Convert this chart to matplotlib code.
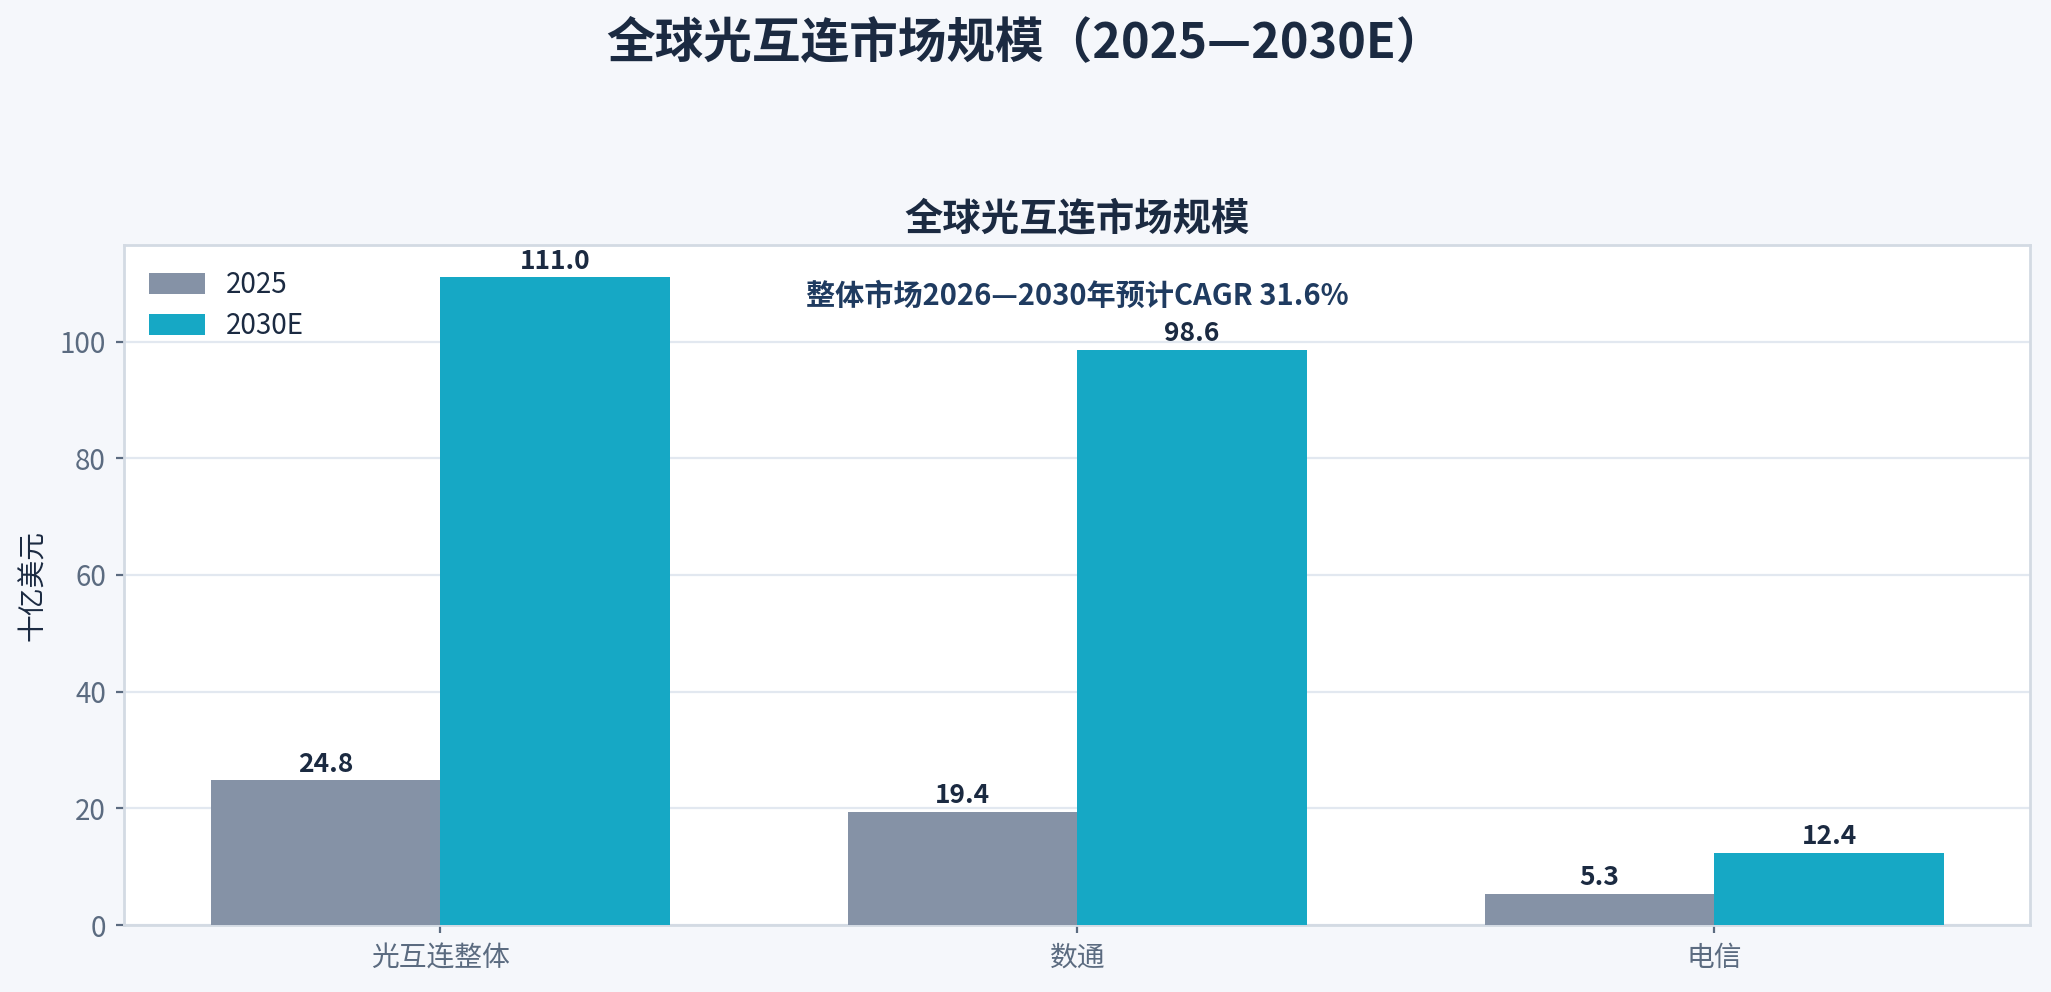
import numpy as np
import matplotlib
matplotlib.use("Agg")
from matplotlib import pyplot as plt

plt.rcParams['font.family'] = ['Noto Sans CJK SC', 'DejaVu Sans']

categories = ["光互连整体", "数通", "电信"]
series_names = ["2025", "2030E"]
values_2025 = [24.8, 19.4, 5.3]
values_2030 = [111.0, 98.6, 12.4]
cagr_note = "整体市场2026—2030年预计CAGR 31.6%"

bg = "#F5F7FB"
dark = "#1B2A41"
tick_col = "#5B6B80"
c_2025 = "#8592A6"
c_2030 = "#16A8C5"

fig = plt.figure(figsize=(10.255, 4.96), dpi=200, facecolor=bg)
ax = fig.add_axes([0.0605, 0.0675, 0.9295, 0.6855])
ax.set_facecolor("white")

x = np.arange(len(categories))
w = 0.36
b1 = ax.bar(x - w / 2, values_2025, w, color=c_2025, label=series_names[0], zorder=3)
b2 = ax.bar(x + w / 2, values_2030, w, color=c_2030, label=series_names[1], zorder=3)

for bars in (b1, b2):
    for b in bars:
        ax.annotate(f"{b.get_height():.1f}", (b.get_x() + b.get_width() / 2, b.get_height()),
                    xytext=(0, 1), textcoords="offset points", ha="center", va="bottom",
                    fontsize=9.5, fontweight="bold", color=dark)

ax.set_ylim(0, max(values_2030) * 1.05)
ax.set_xticks(x)
ax.set_xticklabels(categories)
ax.tick_params(axis="both", colors=tick_col, labelsize=10, length=3)
ax.set_ylabel("十亿美元", fontsize=10, color=dark)
ax.grid(axis="y", color="#E2E8F0", linewidth=0.8, zorder=0)
for s in ax.spines.values():
    s.set_color("#D3DAE3")
    s.set_linewidth(1)

ax.set_title("全球光互连市场规模", fontsize=13.8, fontweight="bold", color=dark, pad=5)
ax.text(0.5, 0.925, cagr_note, transform=ax.transAxes, ha="center", va="center",
        fontsize=10.5, fontweight="bold", color="#1F3B60")

leg = ax.legend(loc="upper left", frameon=False, fontsize=10, handlelength=2.0,
                handleheight=0.75, handletextpad=0.75, labelspacing=0.4, borderaxespad=0.5)
for t in leg.get_texts():
    t.set_color(dark)

fig.suptitle("全球光互连市场规模（2025—2030E）", fontsize=17.5, fontweight="bold", color=dark,
             y=0.957, va="center")

plt.savefig("out.png", dpi=200, facecolor=bg)
